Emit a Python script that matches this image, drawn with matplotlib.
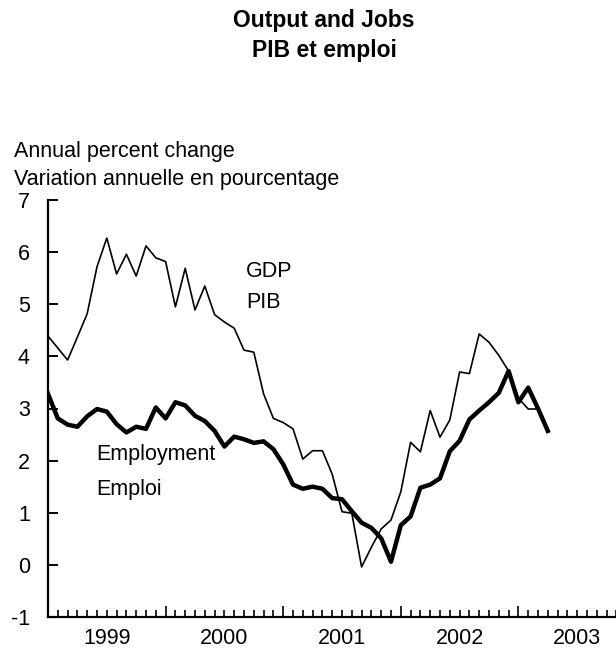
import matplotlib.pyplot as plt
from matplotlib.ticker import MultipleLocator, FixedLocator

plt.rcParams['font.family'] = ['Liberation Sans', 'DejaVu Sans']
plt.rcParams['axes.unicode_minus'] = False

# Monthly index from January 1999 (0) onward
gdp = [4.39, 4.16, 3.93, 4.37, 4.82, 5.72, 6.27, 5.58, 5.96, 5.54,
       6.12, 5.89, 5.82, 4.95, 5.69, 4.89, 5.35, 4.80, 4.66, 4.54,
       4.12, 4.08, 3.28, 2.81, 2.73, 2.61, 2.03, 2.19, 2.19, 1.74,
       1.02, 0.99, -0.04, 0.34, 0.69, 0.86, 1.40, 2.35, 2.17, 2.96,
       2.45, 2.78, 3.70, 3.67, 4.43, 4.27, 4.02, 3.72, 3.20, 2.99,
       2.99]
employment = [3.28, 2.81, 2.69, 2.65, 2.85, 2.99, 2.94, 2.70, 2.54, 2.65,
              2.61, 3.02, 2.81, 3.12, 3.06, 2.86, 2.76, 2.57, 2.27, 2.46,
              2.41, 2.34, 2.37, 2.22, 1.93, 1.54, 1.46, 1.50, 1.46, 1.28,
              1.26, 1.03, 0.81, 0.71, 0.51, 0.06, 0.76, 0.93, 1.48, 1.54,
              1.66, 2.18, 2.38, 2.79, 2.96, 3.12, 3.30, 3.72, 3.12, 3.40,
              3.00, 2.57]
years = ['1999', '2000', '2001', '2002', '2003']

fig = plt.figure(figsize=(6.16, 6.6), dpi=100)
ax = fig.add_axes([48 / 616, 43 / 660, 588 / 616, 417 / 660])

ax.plot(range(len(gdp)), gdp, color='black', linewidth=1.2)
ax.plot(range(len(employment)), employment, color='black', linewidth=3.2)

ax.set_xlim(0, 60)
ax.set_ylim(-1, 7)

for side in ['top', 'right']:
    ax.spines[side].set_visible(False)
for side in ['left', 'bottom']:
    ax.spines[side].set_linewidth(1.6)

# y axis
ax.yaxis.set_major_locator(MultipleLocator(1))
ax.tick_params(axis='y', direction='in', length=7, width=1.4, pad=13,
               labelsize=15.5)

# x axis: year boundaries as major ticks, months as minor, labels mid-year
ax.xaxis.set_major_locator(FixedLocator([12, 24, 36, 48]))
ax.xaxis.set_minor_locator(FixedLocator([m for m in range(1, 60) if m % 12]))
ax.tick_params(axis='x', which='major', direction='in', length=8, width=1.2,
               labelbottom=False)
ax.tick_params(axis='x', which='minor', direction='in', length=5, width=1.2)
for i, yr in enumerate(years):
    ax.text(6 + 12 * i, -1.22, yr, ha='center', va='top', fontsize=15.5)

# series labels
ax.text(20.2, 5.62, 'GDP', fontsize=15.5, va='center')
ax.text(20.2, 5.04, 'PIB', fontsize=15.5, va='center')
ax.text(4.9, 2.12, 'Employment', fontsize=15.5, va='center')
ax.text(4.9, 1.45, 'Emploi', fontsize=15.5, va='center')

# titles and axis caption
fig.text(324 / 616, 1 - 21 / 660, 'Output and Jobs', ha='center', va='center',
         fontsize=16.5, fontweight='bold')
fig.text(324 / 616, 1 - 51 / 660, 'PIB et emploi', ha='center', va='center',
         fontsize=16.5, fontweight='bold')
fig.text(14 / 616, 1 - 151 / 660, 'Annual percent change', ha='left',
         va='center', fontsize=15.5)
fig.text(14 / 616, 1 - 180 / 660, 'Variation annuelle en pourcentage',
         ha='left', va='center', fontsize=15.5)

fig.savefig('out.png', dpi=100)
